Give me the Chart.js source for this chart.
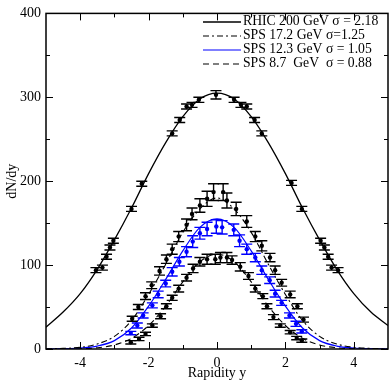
<!DOCTYPE html>
<html>
<head>
<meta charset="utf-8">
<script src="https://cdn.jsdelivr.net/npm/chart.js@4/dist/chart.umd.min.js"></script>
<style>
  html, body { margin: 0; padding: 0; background: #fff; }
  #wrap { width: 392px; height: 383px; }
</style>
</head>
<body>
<div id="wrap"><canvas id="myChart"></canvas></div>
<script>
// ***** data *****
var seriesNames = ['RHIC 200 GeV \u03c3 = 2.18', 'SPS 17.2 GeV \u03c3=1.25', 'SPS 12.3 GeV \u03c3 = 1.05', 'SPS 8.7  GeV  \u03c3 = 0.88'];
var seriesColors = ['#000000', '#000000', '#0000ff', '#000000'];
var seriesDash = [[], [6, 3, 2, 3], [], [6, 4]];

// fitted curves, sampled every 0.5 in rapidity
var curveY = [-5, -4.5, -4, -3.5, -3, -2.5, -2, -1.5, -1, -0.5, 0, 0.5, 1, 1.5, 2, 2.5, 3, 3.5, 4, 4.5, 5];
var rhicCurve = [26, 44, 66, 95, 130, 168, 209, 246, 277, 298, 305, 298, 277, 246, 209, 168, 130, 95, 66, 44, 28];
var sps172Curve = [0.2, 0.7, 2, 6, 15, 34, 65, 101, 139, 167, 180, 167, 139, 101, 65, 34, 15, 6, 2, 0.7, 0.2];
var sps123Curve = [0.1, 0.4, 1.2, 3.5, 10, 25, 51, 83, 117, 145, 155, 145, 117, 83, 51, 25, 10, 3.5, 1.2, 0.4, 0.1];
var sps87Curve = [0, 0.1, 0.4, 1.5, 4.8, 12.7, 28, 51, 80, 104, 113, 104, 80, 51, 28, 12.7, 4.8, 1.5, 0.4, 0.1, 0];

// measured points with errors
var rhicY = [-3.54, -3.35, -3.23, -3.13, -3.03, -2.50, -2.20, -1.31, -1.09, -0.89, -0.73, -0.53, -0.03, 0.50, 0.70, 0.87, 1.10, 1.31, 2.18, 2.48, 3.03, 3.14, 3.25, 3.35, 3.54];
var rhicVal = [94, 97, 110, 121, 129, 167, 197, 257, 273, 289, 291, 297, 303, 297, 291, 289, 273, 257, 198, 167, 129, 121, 110, 97, 94];
var rhicErr = [3, 3, 3, 3, 3, 3, 3, 3, 3, 3, 3, 3, 5, 3, 3, 3, 3, 3, 3, 3, 3, 3, 3, 3, 3];

var sps172Y = [-2.48, -2.30, -2.09, -1.91, -1.68, -1.48, -1.31, -1.12, -0.89, -0.73, -0.50, -0.29, -0.10, 0.18, 0.29, 0.56, 0.87, 1.12, 1.31, 1.55, 1.70, 1.89, 2.14, 2.35, 2.53];
var sps172Val = [36, 50, 63, 76, 93, 107, 119, 134, 148, 161, 171, 179, 187, 187, 177, 167, 152, 134, 123, 109, 94, 79, 65, 51, 35];
var sps172Err = [3, 3, 4, 4, 5, 5, 6, 6, 7, 7, 8, 9, 10, 10, 9, 8, 7, 6, 6, 5, 5, 4, 4, 3, 3];

var sps123Y = [-2.52, -2.33, -2.16, -1.89, -1.72, -1.50, -1.31, -1.10, -0.89, -0.71, -0.50, -0.29, -0.02, 0.15, 0.49, 0.66, 0.87, 1.12, 1.31, 1.54, 1.70, 1.89, 2.12, 2.31, 2.48];
var sps123Val = [19, 28, 40, 52, 65, 78, 92, 104, 116, 128, 138, 143, 146, 145, 142, 129, 119, 109, 94, 82, 66, 55, 40, 30, 21];
var sps123Err = [2, 3, 3, 3, 4, 4, 5, 5, 6, 7, 7, 8, 8, 8, 7, 7, 6, 5, 5, 4, 4, 3, 3, 3, 2];

var sps87Y = [-2.52, -2.28, -2.09, -1.89, -1.65, -1.48, -1.31, -1.12, -0.89, -0.70, -0.50, -0.29, -0.05, 0.10, 0.29, 0.44, 0.68, 0.92, 1.12, 1.34, 1.46, 1.65, 1.85, 2.14, 2.33, 2.48];
var sps87Val = [8, 12, 18, 28, 39, 51, 61, 72, 85, 96, 104, 107, 107, 109, 109, 106, 98, 87, 72, 63, 51, 38, 28, 20, 13, 10];
var sps87Err = [2, 2, 2, 2, 3, 3, 3, 4, 4, 5, 5, 6, 6, 6, 6, 5, 5, 4, 4, 3, 3, 3, 2, 2, 2, 2];

// axes
var xMajor = [-4, -2, 0, 2, 4];
var xMinor = [-3, -1, 1, 3];
var yMajor = [0, 100, 200, 300, 400];
var yMinor = [50, 150, 250, 350];

function pts(xs, vs) {
    return xs.map(function (v, i) { return { x: v, y: vs[i] }; });
}

var serif = 'Liberation Serif';

// ***** error bars *****
var errorBars = {
    id: 'errorBars',
    afterDatasetsDraw: function (chart) {
        var ctx = chart.ctx, a = chart.chartArea, sx = chart.scales.x, sy = chart.scales.y;
        ctx.save();
        ctx.beginPath();
        ctx.rect(a.left, a.top, a.right - a.left, a.bottom - a.top);
        ctx.clip();
        chart.data.datasets.forEach(function (ds) {
            if (!ds.errors) return;
            ctx.strokeStyle = ds.borderColor;
            ctx.lineWidth = 1.4;
            ds.data.forEach(function (p, j) {
                var px = sx.getPixelForValue(p.x);
                var t = sy.getPixelForValue(p.y + ds.errors[j]);
                var b = sy.getPixelForValue(p.y - ds.errors[j]);
                ctx.beginPath();
                ctx.moveTo(px, t); ctx.lineTo(px, b);
                ctx.moveTo(px - 5.5, t); ctx.lineTo(px + 5.5, t);
                ctx.moveTo(px - 5.5, b); ctx.lineTo(px + 5.5, b);
                ctx.stroke();
            });
        });
        ctx.restore();
    }
};

// ***** frame, inward ticks, legend *****
var frameAndLegend = {
    id: 'frameAndLegend',
    afterDraw: function (chart) {
        var ctx = chart.ctx, a = chart.chartArea, sx = chart.scales.x, sy = chart.scales.y;
        ctx.save();
        ctx.strokeStyle = '#000';
        ctx.lineWidth = 1.5;
        ctx.strokeRect(a.left, a.top, a.right - a.left, a.bottom - a.top);
        ctx.lineWidth = 1;
        function xt(vals, len) {
            vals.forEach(function (v) {
                var p = Math.round(sx.getPixelForValue(v)) + 0.5;
                ctx.beginPath();
                ctx.moveTo(p, a.bottom); ctx.lineTo(p, a.bottom - len);
                ctx.moveTo(p, a.top); ctx.lineTo(p, a.top + len);
                ctx.stroke();
            });
        }
        function yt(vals, len) {
            vals.forEach(function (v) {
                var p = Math.round(sy.getPixelForValue(v)) + 0.5;
                ctx.beginPath();
                ctx.moveTo(a.left, p); ctx.lineTo(a.left + len, p);
                ctx.moveTo(a.right, p); ctx.lineTo(a.right - len, p);
                ctx.stroke();
            });
        }
        xt(xMajor, 7); xt(xMinor, 4);
        yt(yMajor, 7); yt(yMinor, 4);

        // legend
        ctx.font = '13.7px "' + serif + '"';
        ctx.textBaseline = 'middle';
        ctx.fillStyle = '#000';
        var x0 = 203, x1 = 241, tx = 243, y0 = 21, dy = 14;
        for (var i = 0; i < seriesNames.length; i++) {
            var yy = y0 + i * dy;
            ctx.strokeStyle = seriesColors[i];
            ctx.lineWidth = i === 0 ? 1.5 : 1.2;
            ctx.setLineDash(seriesDash[i]);
            ctx.beginPath();
            ctx.moveTo(x0, yy + 1); ctx.lineTo(x1, yy + 1);
            ctx.stroke();
            ctx.setLineDash([]);
            ctx.fillText(seriesNames[i], tx, yy);
        }
        ctx.restore();
    }
};

function curve(vals, i, width) {
    return {
        data: pts(curveY, vals),
        borderColor: seriesColors[i],
        borderWidth: width,
        borderDash: seriesDash[i],
        pointRadius: 0,
        fill: false,
        cubicInterpolationMode: 'monotone'
    };
}

function points(xs, vs, errs, i) {
    return {
        data: pts(xs, vs),
        errors: errs,
        showLine: false,
        borderColor: seriesColors[i],
        backgroundColor: seriesColors[i],
        pointRadius: 2.2,
        pointBorderWidth: 0
    };
}

var ctx = document.getElementById('myChart').getContext('2d');
var chart = new Chart(ctx, {
    type: 'line',
    data: {
        datasets: [
            curve(rhicCurve, 0, 1.3),
            curve(sps172Curve, 1, 1.1),
            curve(sps123Curve, 2, 1.2),
            curve(sps87Curve, 3, 1.1),
            points(rhicY, rhicVal, rhicErr, 0),
            points(sps172Y, sps172Val, sps172Err, 1),
            points(sps123Y, sps123Val, sps123Err, 2),
            points(sps87Y, sps87Val, sps87Err, 3)
        ]
    },
    options: {
        responsive: true,
        maintainAspectRatio: false,
        animation: false,
        events: [],
        layout: { padding: { top: 5, right: 1, left: 0, bottom: 0 } },
        plugins: { legend: { display: false }, tooltip: { enabled: false } },
        scales: {
            x: {
                type: 'linear',
                min: -5,
                max: 5,
                afterBuildTicks: function (s) { s.ticks = xMajor.map(function (v) { return { value: v }; }); },
                afterFit: function (s) { s.height = 34; },
                grid: { display: false, drawTicks: false },
                border: { display: false },
                ticks: {
                    padding: 6,
                    color: '#000',
                    font: { family: serif, size: 14 },
                    callback: function (v) { return String(v); }
                },
                title: { display: true, text: 'Rapidity y', color: '#000', font: { family: serif, size: 14 }, padding: { top: 0, bottom: 1 } }
            },
            y: {
                min: 0,
                max: 400,
                afterBuildTicks: function (s) { s.ticks = yMajor.map(function (v) { return { value: v }; }); },
                afterFit: function (s) { s.width = 46; },
                grid: { display: false, drawTicks: false },
                border: { display: false },
                ticks: {
                    padding: 5,
                    color: '#000',
                    font: { family: serif, size: 14 },
                    callback: function (v) { return String(v); }
                },
                title: { display: true, text: 'dN/dy', color: '#000', font: { family: serif, size: 14 }, padding: { top: 4, bottom: 0 } }
            }
        }
    },
    plugins: [errorBars, frameAndLegend]
});
</script>
</body>
</html>
